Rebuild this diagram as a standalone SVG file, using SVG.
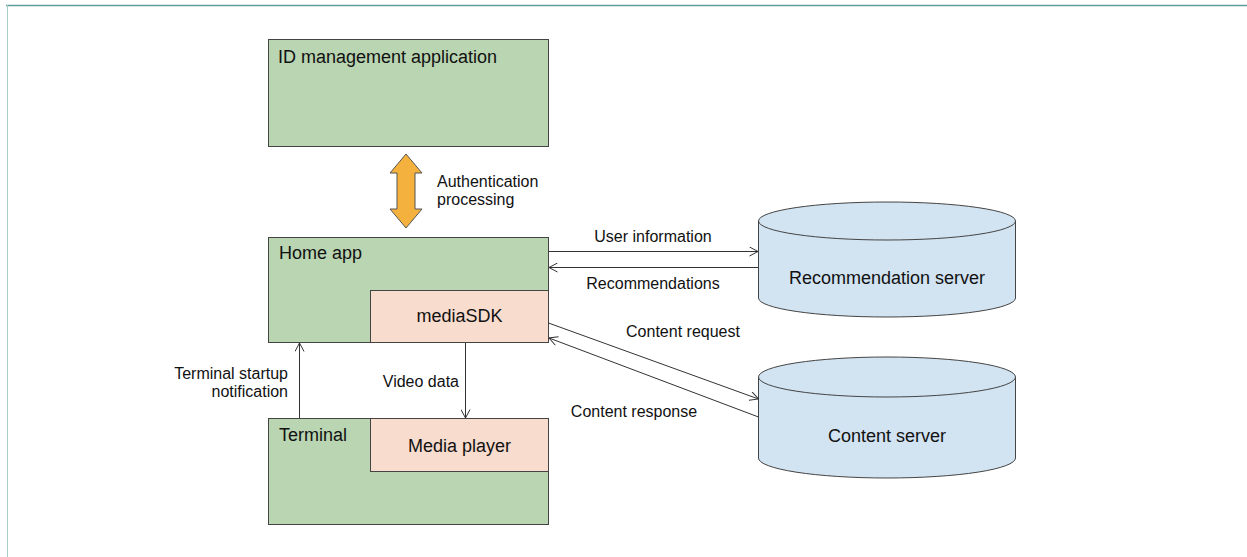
<svg xmlns="http://www.w3.org/2000/svg" width="1247" height="557" viewBox="0 0 1247 557">
<style>
  .box { fill: #b9d5b1; stroke: #444; stroke-width: 1; }
  .sub { fill: #f8dccd; stroke: #444; stroke-width: 1; }
  .cyl { fill: #d2e3f1; stroke: #444; stroke-width: 1; }
  .title { font-family: "Liberation Sans", Arial, sans-serif; font-size: 18px; fill: #111; }
  .lbl { font-family: "Liberation Sans", Arial, sans-serif; font-size: 16px; fill: #111; }
  .conn { stroke: #333; stroke-width: 1; fill: none; marker-end: url(#arr); }
</style>
<defs>
  <marker id="arr" viewBox="0 0 10 10" refX="9.5" refY="5" markerWidth="10" markerHeight="10" markerUnits="userSpaceOnUse" orient="auto">
    <path d="M1,0.5 L9.5,5 L1,9.5" fill="none" stroke="#333" stroke-width="1"/>
  </marker>
</defs>
<rect x="0" y="0" width="1247" height="557" fill="#ffffff"/>
<line x1="6" y1="5.5" x2="1247" y2="5.5" stroke="#5f9f97" stroke-width="1.5"/>
<line x1="7.5" y1="5" x2="7.5" y2="557" stroke="#a6cdc6" stroke-width="1"/>

<g id="id-management">
  <rect class="box" x="268.5" y="39.5" width="280" height="107"/>
  <text class="title" x="278" y="63">ID management application</text>
</g>

<g id="home-app">
  <rect class="box" x="268.5" y="237.5" width="280" height="105"/>
  <text class="title" x="279" y="259">Home app</text>
</g>
<g id="mediasdk">
  <rect class="sub" x="370.5" y="290.5" width="178" height="52"/>
  <text class="title" x="459.5" y="322" text-anchor="middle">mediaSDK</text>
</g>

<g id="terminal">
  <rect class="box" x="268.5" y="418.5" width="280" height="106"/>
  <text class="title" x="279" y="441">Terminal</text>
</g>
<g id="media-player">
  <rect class="sub" x="370.5" y="418.5" width="178" height="53"/>
  <text class="title" x="459.5" y="452" text-anchor="middle">Media player</text>
</g>

<g id="recommendation-server">
  <path class="cyl" d="M758.5,221 A128.5,19 0 0 1 1015.5,221 L1015.5,298 A128.5,19 0 0 1 758.5,298 Z"/>
  <path class="cyl" d="M758.5,221 A128.5,19 0 0 0 1015.5,221" fill="none"/>
  <text class="title" x="887" y="284" text-anchor="middle">Recommendation server</text>
</g>

<g id="content-server">
  <path class="cyl" d="M758.5,377 A128.5,20 0 0 1 1015.5,377 L1015.5,458 A128.5,20 0 0 1 758.5,458 Z"/>
  <path class="cyl" d="M758.5,377 A128.5,20 0 0 0 1015.5,377" fill="none"/>
  <text class="title" x="887" y="442" text-anchor="middle">Content server</text>
</g>

<g id="connectors">
  <polygon points="406,154 422,173 415,173 415,209 422,209 406,228 390,209 397,209 397,173 390,173" fill="#f4b13d" stroke="#555" stroke-width="1"/>
  <text class="lbl" x="437" y="187">Authentication</text>
  <text class="lbl" x="437" y="205">processing</text>

  <line class="conn" x1="548.5" y1="251.5" x2="758" y2="251.5"/>
  <text class="lbl" x="653" y="242" text-anchor="middle">User information</text>
  <line class="conn" x1="758" y1="267.5" x2="549" y2="267.5"/>
  <text class="lbl" x="653" y="289" text-anchor="middle">Recommendations</text>

  <line class="conn" x1="548.5" y1="323" x2="758.5" y2="399"/>
  <text class="lbl" x="683" y="337" text-anchor="middle">Content request</text>
  <line class="conn" x1="758.5" y1="417" x2="549" y2="338"/>
  <text class="lbl" x="634" y="417" text-anchor="middle">Content response</text>

  <line class="conn" x1="299.5" y1="418" x2="299.5" y2="343"/>
  <text class="lbl" x="288" y="379" text-anchor="end">Terminal startup</text>
  <text class="lbl" x="288" y="397" text-anchor="end">notification</text>

  <line class="conn" x1="465.5" y1="343" x2="465.5" y2="418"/>
  <text class="lbl" x="459" y="387" text-anchor="end">Video data</text>
</g>
</svg>
